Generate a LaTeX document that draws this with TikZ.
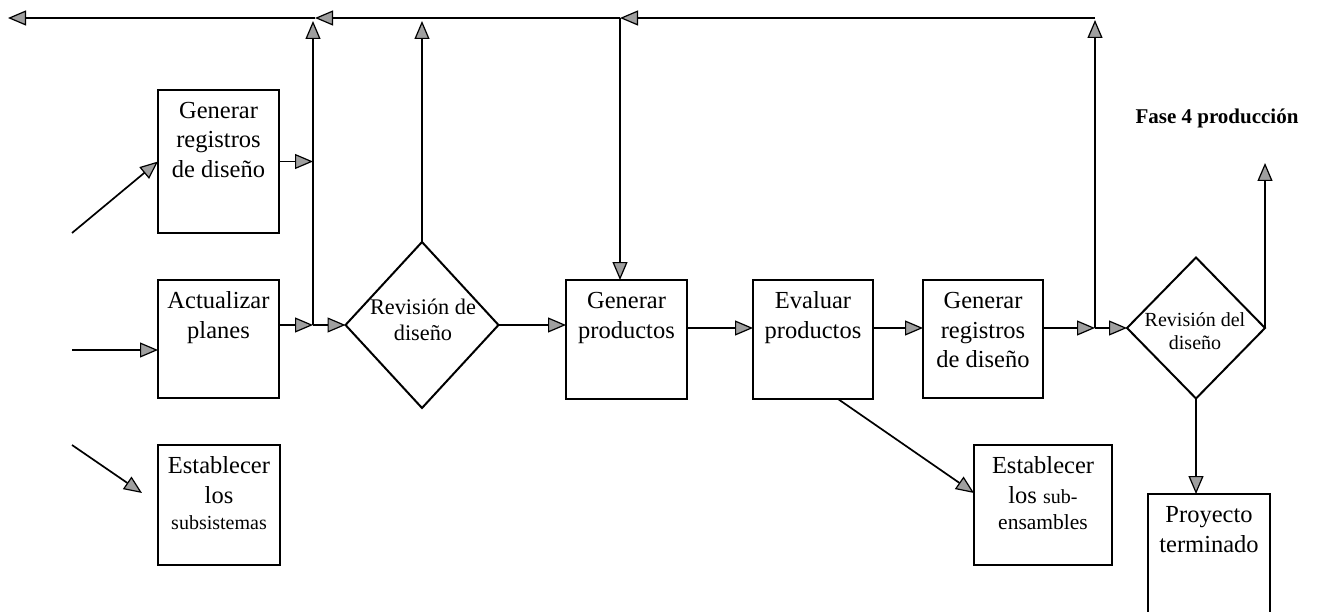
\documentclass[tikz,border=0pt]{standalone}
\usepackage{fontspec}
\setmainfont{Liberation Serif}
\usetikzlibrary{arrows.meta,shapes.geometric,calc}
\newcommand{\bxt}[3]{\parbox[c][#2pt][t]{#1pt}{\centering\fontsize{24.5}{29.5}\selectfont\rule{0pt}{28.5pt}#3}}
\begin{document}
\begin{tikzpicture}[x=1pt,y=-1pt,
  box/.style={draw, line width=1.7pt, inner sep=0pt, outer sep=0pt},
  dia/.style={draw, diamond, line width=2pt, inner sep=0pt, outer sep=0pt},
  arr/.style={line width=1.7pt, -{Triangle[length=18pt,width=15pt,fill=gray!75,line width=1.2pt]}},
  stopshort/.style={shorten >=3pt}]
\clip (0,0) rectangle (1329,612);
\fill[white] (0,0) rectangle (1329,612);

% boxes
\node[box] (b1) at (218.5,161.5) {\bxt{121}{143}{Generar\\registros\\de diseño}};
\node[box] (b2) at (218.5,339) {\bxt{121}{118}{Actualizar\\planes}};
\node[box] (b3) at (219,505) {\bxt{122}{120}{Establecer\\los\\[-3pt]{\fontsize{20}{24}\selectfont subsistemas}}};
\node[dia, minimum width=153pt, minimum height=166pt] (d1) at (422,325) {};
\node[font=\fontsize{22.3}{26}\selectfont, align=center] (d1t) at (423,320) {Revisión de\\diseño};
\node[box] (b4) at (626.5,339.5) {\bxt{121}{119}{Generar\\productos}};
\node[box] (b5) at (813,339.5) {\bxt{120}{119}{Evaluar\\productos}};
\node[box] (b6) at (983,339) {\bxt{120}{118}{Generar\\registros\\de diseño}};
\node[box] (b7) at (1043,505) {\bxt{138}{120}{Establecer\\los {\fontsize{20}{24}\selectfont sub-}\\[-3pt]{\fontsize{21.5}{24}\selectfont ensambles}}};
\node[dia, minimum width=138pt, minimum height=141pt] (d2) at (1196,328) {};
\node[font=\fontsize{20}{23}\selectfont, align=center] (d2t) at (1195,331) {Revisión del\\diseño};
\node[box] (b8) at (1209,574) {\bxt{122}{160}{Proyecto\\terminado}};
\node[font=\bfseries\fontsize{21}{25}\selectfont] (fase) at (1217,118) {Fase 4 producción};

% coordinates
\coordinate (in1) at (72,233);
\coordinate (in2) at (72,350);
\coordinate (in3) at (72,445);
\coordinate (t1) at (8,18);
\coordinate (t2) at (315,18);
\coordinate (t3) at (620,18);
\coordinate (tr) at (1095,18);
\coordinate (j1) at (313,325);
\coordinate (j2) at (1095,328);
\coordinate (out) at (1265,163);

% connectors
\draw[arr] (in1) -- (b1.west);
\draw[arr] (in2) -- (in2 -| b2.west);
\draw[arr] (in3) -- ($(b3.west)+(-16,-12)$);
\draw[arr] (b1.east) -- (b1.east -| j1);
\draw[arr] (b2.east |- j1) -- (j1);
\draw[arr,stopshort] (j1) -- (j1 |- t2);
\draw[arr] (j1) -- (d1.west);
\draw[arr,stopshort] (d1.north) -- (d1.north |- t2);
\draw[arr] (tr) -- (t3);
\draw[arr] (t3) -- (t2);
\draw[arr] (t2) -- (t1);
\draw[arr] (t3) -- (t3 |- b4.north);
\draw[arr] (d1.east) -- (d1.east -| b4.west);
\draw[arr] (b4.east |- j2) -- (b5.west |- j2);
\draw[arr] (b5.east |- j2) -- (b6.west |- j2);
\draw[arr] (b6.east |- j2) -- (j2);
\draw[arr,shorten >=2pt] (j2) -- (tr);
\draw[arr] (j2) -- (d2.west);
\draw[arr] (d2.east) -- (out);
\draw[arr] (d2.south) -- (d2.south |- b8.north);
\draw[arr] ($(b5.south)+(25,0)$) -- ($(b7.west)+(0,-12)$);
\end{tikzpicture}
\end{document}
